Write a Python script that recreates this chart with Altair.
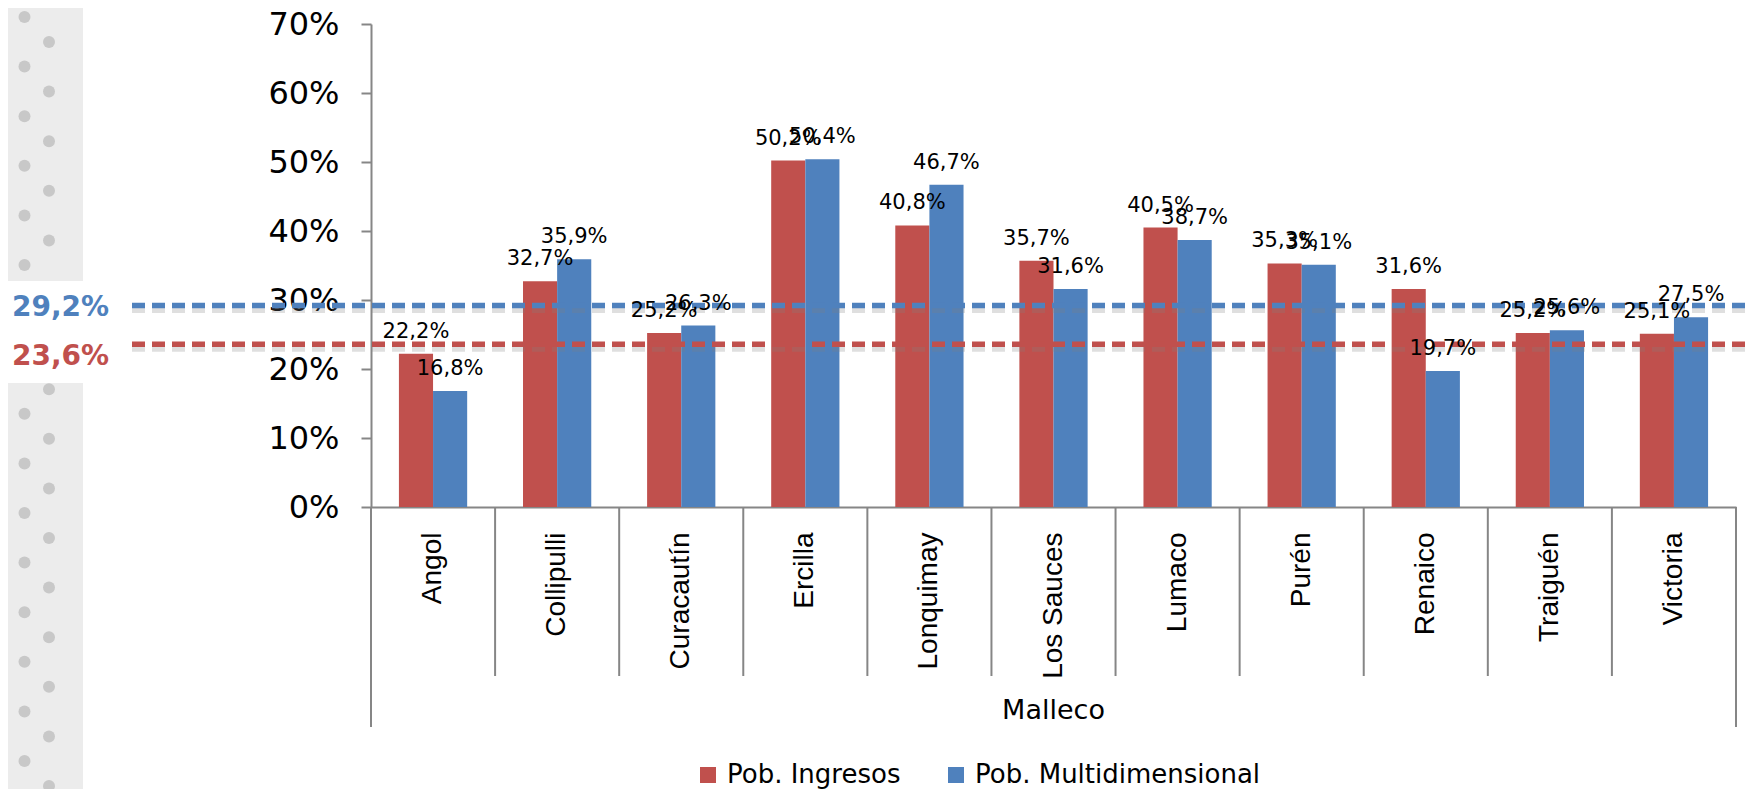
import base64
import altair as alt
import pandas as pd

# ---------------- data ----------------
comunas = ["Angol", "Collipulli", "Curacautín", "Ercilla", "Lonquimay", "Los Sauces",
           "Lumaco", "Purén", "Renaico", "Traiguén", "Victoria"]
provincia = "Malleco"
series = ["Pob. Ingresos", "Pob. Multidimensional"]
ingresos = [22.2, 32.7, 25.2, 50.2, 40.8, 35.7, 40.5, 35.3, 31.6, 25.2, 25.1]
multidim = [16.8, 35.9, 26.3, 50.4, 46.7, 31.6, 38.7, 35.1, 19.7, 25.6, 27.5]
prom_series = ["Pob. Multidimensional", "Pob. Ingresos"]
promedios = [29.2, 23.6]
y_ticks = [0, 10, 20, 30, 40, 50, 60, 70]

colors = ["#C0504D", "#4F81BD"]
color_of = dict(zip(series, colors))


def fmt(v):
    return f"{v:.1f}".replace(".", ",") + "%"


rows = []
for s, vals in zip(series, [ingresos, multidim]):
    for c, v in zip(comunas, vals):
        rows.append({"comuna": c, "serie": s, "valor": v / 100, "etiqueta": fmt(v)})
df = pd.DataFrame(rows)
df_avg = pd.DataFrame({"serie": prom_series, "v": [p / 100 for p in promedios],
                       "lab": [fmt(p) for p in promedios]})
df_cat = pd.DataFrame({"comuna": comunas})
df_prov = pd.DataFrame({"prov": [provincia]})
df_one = pd.DataFrame({"k": [0]})

# ---------------- layout ----------------
W, H = 1365, 483
STEP = W / len(comunas)
P_IN = 0.45

# decorative dotted panel on the left (as an svg image)
PW, PH = 75, 789
circ = []
for k in range(17):
    for cx, cy0 in [(16.5, 9), (41, 34), (-8, 34)]:
        cy = cy0 + 49.6 * k
        circ.append(f'<circle cx="{cx}" cy="{cy:.1f}" r="6" fill="#c8c8c8"/>')
svg = (f'<svg xmlns="http://www.w3.org/2000/svg" width="{PW}" height="{PH}">'
       f'<rect width="{PW}" height="{PH}" fill="#ececec"/>{"".join(circ)}'
       f'<rect y="273" width="{PW}" height="102" fill="#ffffff"/></svg>')
uri = "data:image/svg+xml;base64," + base64.b64encode(svg.encode()).decode()

bg = alt.Chart(df_one).mark_image(align="left", baseline="top", aspect=False,
                                  width=PW, height=PH).encode(
    x=alt.value(-363), y=alt.value(-16), url=alt.value(uri))

xscale = alt.Scale(paddingInner=P_IN, paddingOuter=P_IN / 2)
yscale = alt.Scale(domain=[0, 0.7])

xaxis = alt.Axis(title=None, labelAngle=270, labelAlign="right", labelBaseline="middle",
                 labelFont="Liberation Sans", labelFontSize=28, labelColor="black",
                 labelPadding=25, ticks=False, tickSize=0,
                 domainColor="#868686", domainWidth=2)
yaxis = alt.Axis(title=None, values=[t / 100 for t in y_ticks], format=".0%", grid=False,
                 tickSize=10, tickColor="#868686", tickWidth=2,
                 domainColor="#868686", domainWidth=2,
                 labelFont="DejaVu Sans", labelFontSize=32, labelColor="black",
                 labelPadding=22)

bars = alt.Chart(df).mark_bar().encode(
    x=alt.X("comuna:N", sort=comunas, scale=xscale, axis=xaxis),
    xOffset=alt.XOffset("serie:N", sort=series),
    y=alt.Y("valor:Q", scale=yscale, axis=yaxis),
    color=alt.Color("serie:N", sort=series, scale=alt.Scale(domain=series, range=colors),
                    legend=alt.Legend(title=None, orient="none", legendX=324, legendY=738,
                                      direction="horizontal", symbolType="square",
                                      symbolSize=256, symbolStrokeWidth=0,
                                      labelFont="DejaVu Sans", labelFontSize=26,
                                      labelLimit=500,
                                      labelColor="black", labelOffset=6,
                                      columnPadding=42, padding=0)),
)

bar_labels = alt.Chart(df).mark_text(baseline="alphabetic", dy=-16, fontSize=21,
                                     font="DejaVu Sans", color="black").encode(
    x=alt.X("comuna:N", sort=comunas, scale=xscale, axis=xaxis),
    xOffset=alt.XOffset("serie:N", sort=series),
    y=alt.Y("valor:Q", scale=yscale, axis=yaxis),
    text="etiqueta:N",
)

separators = alt.Chart(df_cat).transform_filter(
    alt.datum.comuna != comunas[0]
).mark_rule(color="#868686", strokeWidth=2, xOffset=-STEP * P_IN / 2).encode(
    x=alt.X("comuna:N", sort=comunas, scale=xscale, bandPosition=0, axis=xaxis),
    y=alt.value(H), y2=alt.value(652),
)
left_line = alt.Chart(df_one).mark_rule(color="#868686", strokeWidth=2).encode(
    x=alt.value(0), y=alt.value(H), y2=alt.value(703))
right_line = alt.Chart(df_one).mark_rule(color="#868686", strokeWidth=2).encode(
    x=alt.value(W), y=alt.value(H), y2=alt.value(703))

prov_label = alt.Chart(df_prov).mark_text(font="DejaVu Sans", fontSize=27, color="black",
                                          align="center", baseline="middle").encode(
    x=alt.value(W / 2), y=alt.value(687), text="prov:N")

avg_layers = []
label_dy = {"Pob. Multidimensional": 2, "Pob. Ingresos": 13}
for s in prom_series:
    col = color_of[s]
    base = alt.Chart(df_avg).transform_filter(alt.datum.serie == s)
    shadow = base.mark_rule(color="#7f7f7f", opacity=0.25, strokeWidth=7,
                            strokeDash=[13, 7], yOffset=4).encode(
        x=alt.value(-239), x2=alt.value(1380), y=alt.Y("v:Q", scale=yscale, axis=yaxis))
    line = base.mark_rule(color=col, strokeWidth=5.5, strokeDash=[13, 7]).encode(
        x=alt.value(-239), x2=alt.value(1380), y=alt.Y("v:Q", scale=yscale, axis=yaxis))
    lab = base.mark_text(align="left", baseline="middle", font="DejaVu Sans", fontSize=28,
                         fontWeight="bold", color=col, dy=label_dy[s]).encode(
        x=alt.value(-359), y=alt.Y("v:Q", scale=yscale, axis=yaxis), text="lab:N")
    avg_layers += [shadow, line, lab]

chart = alt.layer(
    bg, bars, separators, left_line, right_line, prov_label, *avg_layers, bar_labels
).properties(
    width=W, height=H,
    autosize=alt.AutoSizeParams(type="none"),
    padding={"left": 363, "top": 16, "right": 15, "bottom": 282},
    background="white",
).configure_view(strokeWidth=0)

chart.save("out.html", embed_options={"renderer": "svg", "actions": False})
